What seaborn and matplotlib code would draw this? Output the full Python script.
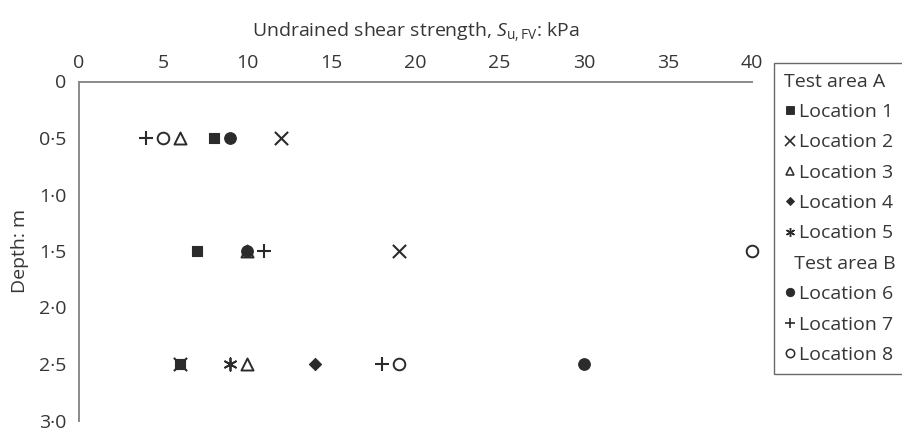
import numpy as np
import pandas as pd
import seaborn as sns
import matplotlib.pyplot as plt
from matplotlib.lines import Line2D
from matplotlib.ticker import FixedLocator, FuncFormatter

# Field vane results: depth (m) and undrained shear strength (kPa) per location
loc1_depth = [0.5, 1.5, 2.5]
loc1_su = [8, 7, 6]
loc2_depth = [0.5, 1.5, 2.5]
loc2_su = [12, 19, 6]
loc3_depth = [0.5, 1.5, 2.5]
loc3_su = [6, 10, 10]
loc4_depth = [2.5]
loc4_su = [14]
loc5_depth = [2.5]
loc5_su = [9]
loc6_depth = [0.5, 1.5, 2.5]
loc6_su = [9, 10, 30]
loc7_depth = [0.5, 1.5, 2.5]
loc7_su = [4, 11, 18]
loc8_depth = [0.5, 1.5, 2.5]
loc8_su = [5, 40, 19]

x_ticks = [0, 5, 10, 15, 20, 25, 30, 35, 40]
y_ticks = [0, 0.5, 1.0, 1.5, 2.0, 2.5, 3.0]

INK = "#2b2b2b"
TXT = "#363636"
FS = 14

sns.set_style("white")
plt.rcParams["font.family"] = ["Open Sans", "DejaVu Sans"]
plt.rcParams["mathtext.fontset"] = "custom"
plt.rcParams["mathtext.rm"] = "Open Sans"
plt.rcParams["mathtext.it"] = "Open Sans:italic"
plt.rcParams["text.color"] = TXT
plt.rcParams["xtick.color"] = TXT
plt.rcParams["ytick.color"] = TXT
plt.rcParams["axes.labelcolor"] = TXT

frames = []
for name, d, s in [
    ("Location 1", loc1_depth, loc1_su),
    ("Location 2", loc2_depth, loc2_su),
    ("Location 3", loc3_depth, loc3_su),
    ("Location 4", loc4_depth, loc4_su),
    ("Location 5", loc5_depth, loc5_su),
    ("Location 6", loc6_depth, loc6_su),
    ("Location 7", loc7_depth, loc7_su),
    ("Location 8", loc8_depth, loc8_su),
]:
    frames.append(pd.DataFrame({"location": name, "depth": d, "su": s}))
df = pd.concat(frames, ignore_index=True)

# marker style per location: (marker, size, facecolor, linewidth)
styles = {
    "Location 1": ("s", 60, INK, 0.8),
    "Location 2": ("x", 90, INK, 1.5),
    "Location 3": ("^", 75, "white", 1.4),
    "Location 4": ("D", 38, INK, 0.8),
    "Location 5": ((6, 2, 0), 80, INK, 1.3),
    "Location 6": ("o", 70, INK, 0.8),
    "Location 7": ("+", 110, INK, 1.5),
    "Location 8": ("o", 70, "white", 1.4),
}

fig = plt.figure(figsize=(9.02, 4.28), dpi=100)
ax = fig.add_axes([79 / 902, 1 - 420.5 / 428, (752 - 79) / 902, (420.5 - 81.5) / 428])

draw_order = ["Location 3", "Location 2", "Location 1", "Location 4", "Location 5",
              "Location 6", "Location 7", "Location 8"]
for name in draw_order:
    m, size, fc, lw = styles[name]
    sub = df[df["location"] == name]
    if m in ("x", "+") or isinstance(m, tuple):
        sns.scatterplot(data=sub, x="su", y="depth", marker=m, s=size, color=INK,
                        linewidth=lw, ax=ax, clip_on=False, zorder=3)
    else:
        sns.scatterplot(data=sub, x="su", y="depth", marker=m, s=size, color=INK,
                        facecolor=fc, edgecolor=INK, linewidth=lw, ax=ax,
                        clip_on=False, zorder=3)

ax.set_xlim(0, 40)
ax.set_ylim(3.0, 0)
ax.xaxis.tick_top()
ax.xaxis.set_label_position("top")
ax.xaxis.set_major_locator(FixedLocator(x_ticks))
ax.yaxis.set_major_locator(FixedLocator(y_ticks))
ax.yaxis.set_major_formatter(FuncFormatter(
    lambda v, p: "0" if v == 0 else f"{v:.1f}".replace(".", "\u00b7")))
ax.tick_params(axis="both", length=0, labelsize=FS, colors=TXT)
ax.tick_params(axis="x", pad=7)
ax.tick_params(axis="y", pad=9)

for side in ("right", "bottom"):
    ax.spines[side].set_visible(False)
for side in ("top", "left"):
    ax.spines[side].set_color("#8a8a8a")
    ax.spines[side].set_linewidth(1.4)

ax.set_xlabel(r"Undrained shear strength, $S_{\mathrm{u,FV}}$: kPa", fontsize=FS, labelpad=12)
ax.set_ylabel("Depth: m", fontsize=FS, labelpad=7)

# legend grouped by test area
def handle(name):
    m, size, fc, lw = styles[name]
    ms = np.sqrt(size) * 0.72
    if m in ("x", "+") or isinstance(m, tuple):
        return Line2D([], [], ls="none", marker=m, ms=ms, color=INK, mew=lw * 0.8)
    return Line2D([], [], ls="none", marker=m, ms=ms, mfc=fc, mec=INK, mew=lw * 0.8)

blank = Line2D([], [], ls="none")
handles = [blank] + [handle(f"Location {i}") for i in range(1, 6)] + \
          [blank] + [handle(f"Location {i}") for i in range(6, 9)]
labels = ["Test area A"] + [f"Location {i}" for i in range(1, 6)] + \
         ["Test area B"] + [f"Location {i}" for i in range(6, 9)]

leg = fig.legend(handles, labels, loc="upper left",
                 bbox_to_anchor=(774 / 902, 1 - 63 / 428), fontsize=FS,
                 frameon=True, fancybox=False, handlelength=0.6, handletextpad=0.2,
                 labelspacing=0.635, borderpad=0.5, borderaxespad=0)
leg.get_frame().set_edgecolor("#444444")
leg.get_frame().set_linewidth(1.0)

# header rows carry no marker: let their text start at the row's left edge
for col in leg._legend_handle_box.get_children():
    for row in col.get_children():
        kids = row.get_children()
        txt = kids[-1]
        t = txt._text if hasattr(txt, "_text") else None
        if t is not None and t.get_text().startswith("Test area"):
            row._children = [txt]
            if t.get_text().endswith("B"):
                t.set_text("  Test area B")

fig.savefig("out.png", dpi=100)
